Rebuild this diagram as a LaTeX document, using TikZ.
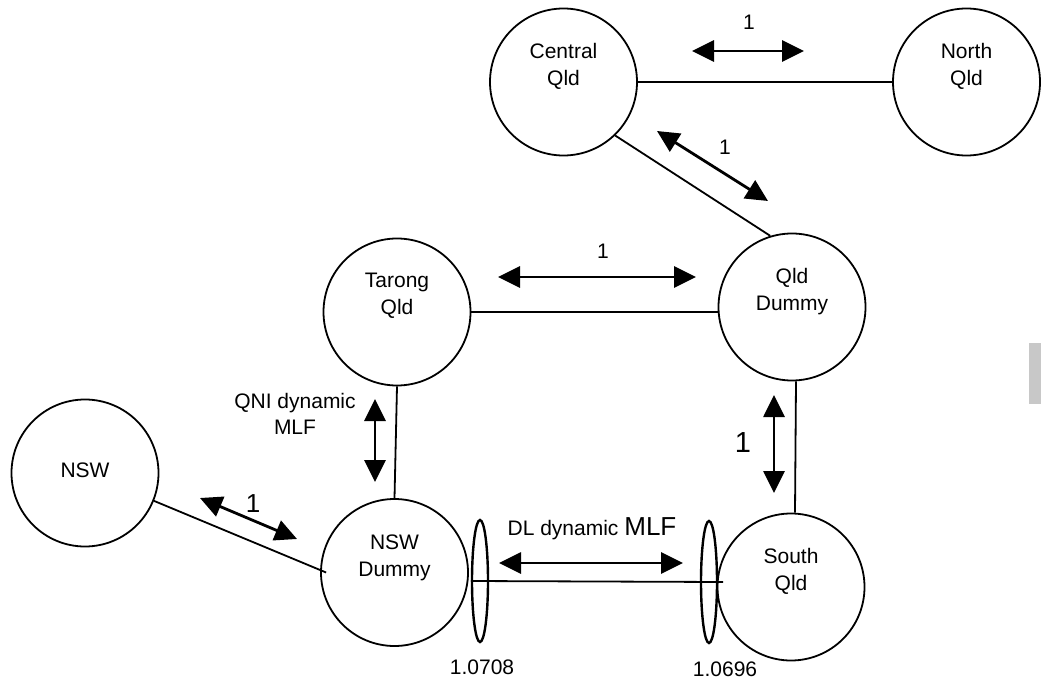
\documentclass[tikz,border=0pt]{standalone}
\usepackage{fontspec}
\setmainfont{Liberation Sans}
\usetikzlibrary{arrows.meta,shapes.geometric,calc}
\definecolor{sidebar}{RGB}{200,200,200}
\tikzset{
  region/.style={circle, draw, line width=1.8pt, minimum size=147pt, inner sep=0pt},
  rtext/.style={align=center, font=\fontsize{21}{27}\selectfont, inner sep=0pt},
  link/.style={line width=1.8pt},
  flow/.style={line width=2.8pt, {Triangle[length=22pt,width=21pt]}-{Triangle[length=22pt,width=21pt]}},
  lossring/.style={ellipse, draw, line width=2.4pt, minimum width=16pt, minimum height=122pt, inner sep=0pt},
  lab/.style={font=\fontsize{21}{26}\selectfont, inner sep=0pt, align=center},
}
\begin{document}
\begin{tikzpicture}[x=1pt,y=-1pt]
\fill[white] (0,0) rectangle (1041,679);
\useasboundingbox (0,0) rectangle (1041,679);

% regions
\node[region] (central) at (563.5,82) {};
\node[region] (north) at (966.5,82) {};
\node[region] (tarong) at (397,312) {};
\node[region] (qdummy) at (792,307) {};
\node[region] (nsw) at (85,473) {};
\node[region] (ndummy) at (394.5,572.5) {};
\node[region] (south) at (791,587) {};

\node[rtext] (tcentral) at ([yshift=16pt]central.center) {Central\\Qld};
\node[rtext] (tnorth) at ([yshift=16pt]north.center) {North\\Qld};
\node[rtext] (ttarong) at ([yshift=16pt]tarong.center) {Tarong\\Qld};
\node[rtext] (tqdummy) at ([yshift=15pt]qdummy.center) {Qld\\Dummy};
\node[rtext] (tnsw) at ([yshift=3pt]nsw.center) {NSW};
\node[rtext] (tndummy) at ([yshift=15pt]ndummy.center) {NSW\\Dummy};
\node[rtext] (tsouth) at ([yshift=16pt]south.center) {South\\Qld};

% loss rings
\node[lossring] (lring) at (480,581) {};
\node[lossring] (rring) at (709,582) {};

% links
\draw[link] (central.east) -- (north.west);
\draw[link] (central.-46) -- (qdummy.107);
\draw[link] (tarong.east) -- (qdummy.west |- tarong.east);
\draw[link] (tarong.south) -- (ndummy.north);
\draw[link] ([xshift=4pt]qdummy.south) -- ([xshift=4pt]south.north);
\draw[link] (nsw.-22.5) -- ([xshift=6pt]ndummy.west);
\draw[link] (lring.west) -- ([xshift=5pt]rring.east);

% flow arrows
\coordinate (f1a) at (692,51);  \coordinate (f1b) at (804,51);
\coordinate (f2a) at (657,131); \coordinate (f2b) at (768,201);
\coordinate (f3a) at (498,277); \coordinate (f3b) at (696,277);
\coordinate (f4a) at (375,399); \coordinate (f4b) at (375,482);
\coordinate (f5a) at (774,395); \coordinate (f5b) at (774,493);
\coordinate (f6a) at (200,498); \coordinate (f6b) at (297,539);
\coordinate (f7a) at (499,563); \coordinate (f7b) at (683,563);
\draw[flow] (f1a) -- (f1b);
\draw[flow] (f2a) -- (f2b);
\draw[flow] (f3a) -- (f3b);
\draw[flow] (f4a) -- (f4b);
\draw[flow] (f5a) -- (f5b);
\draw[flow] (f6a) -- (f6b);
\draw[flow] (f7a) -- (f7b);

% labels
\node[lab] (l1) at (749,22) {1};
\node[lab] (l2) at (725,147) {1};
\node[lab] (l3) at (603,251) {1};
\node[lab, font=\fontsize{29}{32}\selectfont] (l5) at (743,443) {1};
\node[lab, font=\fontsize{26}{30}\selectfont] (l6) at (253,504) {1};
\node[lab] (l4) at (295,414) {QNI dynamic\\MLF};
\node[lab, anchor=base] (l7) at (592,535) {DL dynamic {\fontsize{26}{30}\selectfont MLF}};
\node[lab] (l8) at (482,667) {1.0708};
\node[lab] (l9) at (725,669) {1.0696};

% side bar
\fill[sidebar] (1029,343) rectangle (1041,404);
\end{tikzpicture}
\end{document}
